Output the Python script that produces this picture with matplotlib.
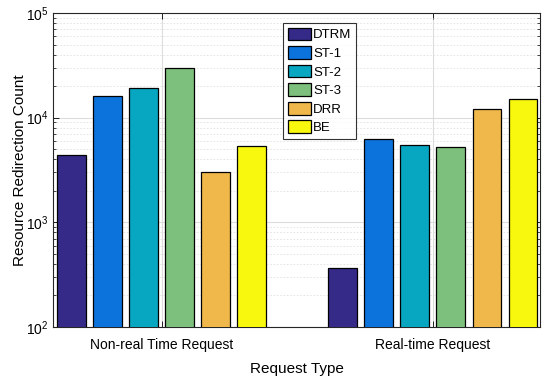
import matplotlib
matplotlib.use("Agg")
import matplotlib.pyplot as plt
import numpy as np
from matplotlib.ticker import LogLocator

plt.rcParams['font.family'] = ['Liberation Sans', 'DejaVu Sans']
plt.rcParams['mathtext.fontset'] = 'custom'
plt.rcParams['mathtext.rm'] = 'Liberation Sans'

categories = ["Non-real Time Request", "Real-time Request"]
series = ["DTRM", "ST-1", "ST-2", "ST-3", "DRR", "BE"]
values = {
    "DTRM": [4400, 370],
    "ST-1": [16000, 6200],
    "ST-2": [19200, 5450],
    "ST-3": [29800, 5250],
    "DRR": [3000, 12000],
    "BE": [5400, 15100],
}
colors = ["#352a87", "#0d73dc", "#07a6c1", "#7dbf7c", "#f0b84a", "#f8f80f"]

fig = plt.figure(figsize=(5.47, 3.80), dpi=100)
ax = fig.add_axes([53/547, 1 - 327/380, (540-53)/547, (327-13)/380])

x = np.arange(1, len(categories) + 1)
step = 0.133
width = 0.106
n = len(series)
for i, s in enumerate(series):
    off = (i - (n - 1) / 2) * step
    ax.bar(x + off, values[s], width=width, bottom=1e-3, color=colors[i],
           edgecolor="black", linewidth=0.9, label=s, zorder=3)

ax.set_yscale("log")
ax.set_ylim(1e2, 1e5)
ax.set_xlim(0.6, 2.395)
ax.set_xticks(x)
ax.set_xticklabels(categories, fontsize=10)
ax.yaxis.set_major_locator(LogLocator(base=10))
ax.yaxis.set_minor_locator(LogLocator(base=10, subs=np.arange(2, 10)))
ax.tick_params(axis="both", which="both", direction="in", top=True, right=True)
ax.tick_params(axis="both", which="major", labelsize=10, length=4, width=0.6)
ax.tick_params(axis="y", which="minor", length=2, width=0.5)
ax.tick_params(axis="x", which="major", pad=8)

ax.grid(True, which="major", color="#dcdcdc", linewidth=0.8, zorder=0)
ax.grid(True, which="minor", axis="y", color="#e2e2e2", linestyle=(0, (2, 2)), linewidth=0.6, zorder=0)
ax.set_axisbelow(True)
for sp in ax.spines.values():
    sp.set_linewidth(0.8)
    sp.set_color("#262626")

ax.set_ylabel("Resource Redirection Count", fontsize=11, labelpad=-1)
ax.set_xlabel("Request Type", fontsize=11, labelpad=7)

leg = ax.legend(loc="upper left", bbox_to_anchor=((283-53)/487, (327-23)/314),
                fontsize=9.5, frameon=True, fancybox=False, edgecolor="black",
                handlelength=1.75, handleheight=1.1, handletextpad=0.2,
                labelspacing=0.36, borderpad=0.35, borderaxespad=0)
leg.get_frame().set_linewidth(0.8)

fig.savefig("out.png", dpi=100)
